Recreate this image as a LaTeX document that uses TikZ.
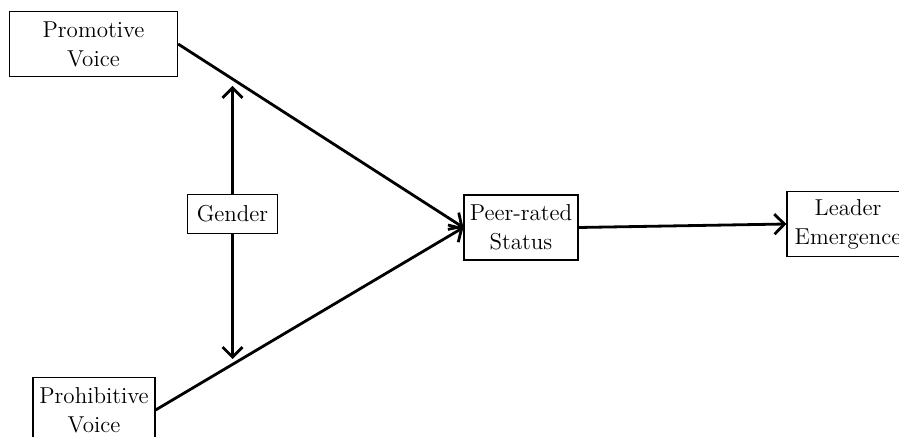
\documentclass[tikz,border=0pt]{standalone}
\usetikzlibrary{arrows.meta, positioning}

\begin{document}
\begin{tikzpicture}[x=0.5pt, y=-0.5pt, ->, >={Straight Barb[length=5pt, width=10pt]}, line width=1.4pt]
\tikzstyle{every node}=[draw, line width=0.6pt, fill=white, align=center, inner sep=2pt, font=\fontsize{11.5}{14.5}\selectfont]
\tikzstyle{box}=[minimum height=32.5pt]

\clip (0,0) rectangle (899,437);

\node[box, minimum width=84pt] (PV) at (93.5,44) {Promotive\\Voice};
\node[box, minimum width=61pt] (PH) at (94,410) {Prohibitive\\Voice};
\node[minimum width=45pt, minimum height=19.5pt] (G) at (232.5,214) {Gender};
\node[box, minimum width=57pt] (PS) at (521,227.5) {Peer-rated\\Status};
\node[box, minimum width=61pt] (LE) at (848,224) {Leader\\Emergence};

\coordinate (up) at (232.5,86);
\coordinate (down) at (232.5,359);

\path
(PV.east) edge (PS.west)
(PH.east) edge (PS.west)
(PS.east) edge (LE.west)
(G.north) edge (up)
(G.south) edge (down);

\end{tikzpicture}
\end{document}
